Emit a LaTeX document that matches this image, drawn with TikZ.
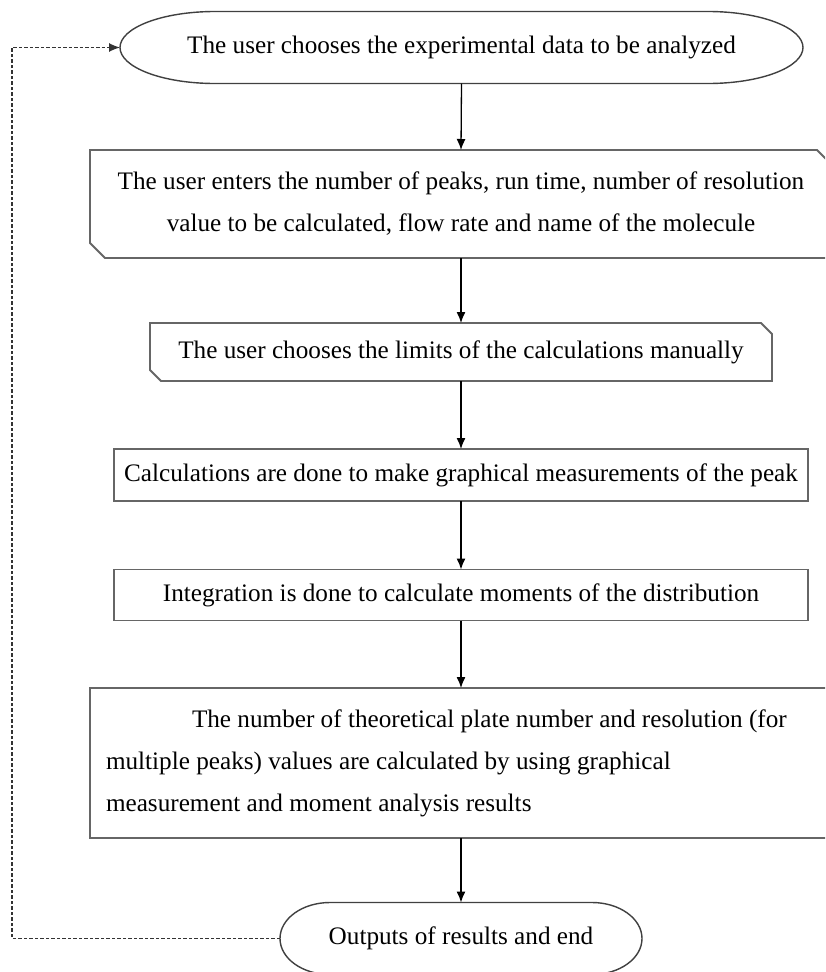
\documentclass[tikz,border=0pt]{standalone}
\usepackage{fontspec}
\setmainfont{Liberation Serif}
\usetikzlibrary{arrows.meta}
\begin{document}
\begin{tikzpicture}[x=1pt,y=-1pt,
  txt/.style={font=\fontsize{25.2}{42}\selectfont, text=black, inner sep=0pt, outer sep=0pt, align=center},
  boxline/.style={draw=black!60, line width=1.8pt},
  termline/.style={draw=black!75, line width=1.4pt},
  flow/.style={draw=black, line width=1.3pt, -{Latex[length=11pt,width=9pt]}},
  back/.style={draw=black!80, line width=1.2pt, dash pattern=on 3.5pt off 2pt, -{Latex[length=11pt,width=9pt]}}
]
\clip (0,0) rectangle (825,972);
\fill[white] (0,0) rectangle (825,972);

% nodes
\node[txt, minimum width=683pt, minimum height=72pt] (t1) at (461.5,47.5)
  {The user chooses the experimental data to be analyzed};
\node[txt, minimum width=742pt, minimum height=108pt] (b2) at (461,204)
  {The user enters the number of peaks, run time, number of resolution\\value to be calculated, flow rate and name of the molecule};
\node[txt, minimum width=622pt, minimum height=58pt] (b3) at (461,352)
  {The user chooses the limits of the calculations manually};
\node[txt, boxline, minimum width=694pt, minimum height=52pt] (b4) at (461,475)
  {Calculations are done to make graphical measurements of the peak};
\node[txt, boxline, minimum width=694pt, minimum height=51pt] (b5) at (461,595)
  {Integration is done to calculate moments of the distribution};
\node[txt, boxline, align=flush left, text width=710pt, inner xsep=16pt, minimum height=150pt] (b6) at (461,763)
  {\hspace*{86pt}The number of theoretical plate number and resolution (for\\multiple peaks) values are calculated by using graphical\\measurement and moment analysis results};
\node[txt, minimum width=362pt, minimum height=72pt] (t2) at (461,938.5)
  {Outputs of results and end};

% terminal outlines
\draw[termline] ([xshift=95pt]t1.north west) -- ([xshift=-95pt]t1.north east)
  arc[start angle=90, end angle=-90, x radius=95pt, y radius=36pt]
  -- ([xshift=95pt]t1.south west)
  arc[start angle=270, end angle=90, x radius=95pt, y radius=36pt] -- cycle;
\draw[termline] ([xshift=50pt]t2.north west) -- ([xshift=-50pt]t2.north east)
  arc[start angle=90, end angle=-90, x radius=50pt, y radius=36pt]
  -- ([xshift=50pt]t2.south west)
  arc[start angle=270, end angle=90, x radius=50pt, y radius=36pt] -- cycle;

% manual input outlines (cut corners)
\draw[boxline] (b2.north west) -- ([xshift=-15pt]b2.north east) -- ([yshift=-15pt]b2.north east)
  -- (b2.south east) -- ([xshift=15pt]b2.south west) -- ([yshift=15pt]b2.south west) -- cycle;
\draw[boxline] (b3.north west) -- ([xshift=-11pt]b3.north east) -- ([yshift=-11pt]b3.north east)
  -- (b3.south east) -- ([xshift=11pt]b3.south west) -- ([yshift=11pt]b3.south west) -- cycle;

% connectors
\draw[flow] (t1.south) -- (b2.north);
\draw[flow] (b2.south) -- (b3.north);
\draw[flow] (b3.south) -- (b4.north);
\draw[flow] (b4.south) -- (b5.north);
\draw[flow] (b5.south) -- (b6.north);
\draw[flow] (b6.south) -- (t2.north);

\coordinate (fb) at (12,500);
\draw[back] (t2.west) -| (fb) |- (t1.west);
\end{tikzpicture}
\end{document}
